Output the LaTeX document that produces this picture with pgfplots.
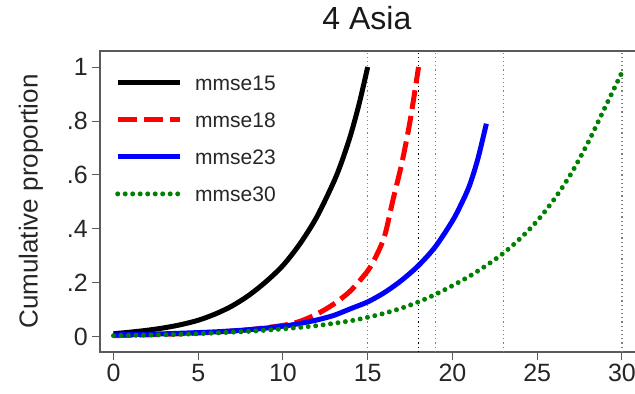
\documentclass[border=0pt]{standalone}
\usepackage{fontspec}
\setmainfont{Liberation Sans}
\usepackage{pgfplots}
\pgfplotsset{compat=1.18}
\definecolor{sgreen}{RGB}{0,128,0}
\definecolor{axgray}{RGB}{90,90,90}
\begin{document}
\begin{tikzpicture}
\begin{axis}[
  name=ax, at={(0,0)}, anchor=south west,
  scale only axis, width=536bp, height=301bp,
  xmin=-0.796, xmax=30.83, ymin=-0.0556, ymax=1.0593,
  axis line style={draw=axgray, line width=1.2bp},
  xtick={0,5,10,15,20,25,30},
  ytick={0,0.2,0.4,0.6,0.8,1},
  yticklabels={0,.2,.4,.6,.8,1},
  xtick pos=bottom, ytick pos=left, tick align=outside,
  major tick length=8bp,
  tick style={draw=axgray, line width=1bp},
  /pgf/number format/assume math mode=true,
  ticklabel style={font=\fontsize{25bp}{28bp}\selectfont, text=black!85},
  yticklabel style={anchor=east, inner sep=0pt, xshift=-4bp},
  xticklabel style={anchor=north, inner sep=0pt, yshift=-4bp},
  ylabel={Cumulative proportion},
  ylabel style={at={(axis description cs:-0.1287,0.5)}, anchor=center, font=\fontsize{26bp}{30bp}\selectfont, text=black!85},
  title={4 Asia},
  title style={at={(axis description cs:0.498,1)}, anchor=base, yshift=16bp, font=\fontsize{32bp}{36bp}\selectfont, text=black!90},
  legend style={draw=none, fill=none, at={(axis description cs:0.028,0.9196)}, anchor=north west, inner sep=0pt, row sep=22bp, column sep=0bp,
    nodes={inner sep=0pt, text height=15bp, text depth=0bp, font=\fontsize{21bp}{24bp}\selectfont, text=black!85}},
  legend image code/.code={\draw[#1] (0bp,0bp) -- (62bp,0bp);},
  legend cell align=left,
]
% reference lines
\addplot[forget plot, gray, line width=1.2bp, dash pattern=on 1.2bp off 3bp] coordinates {(15,-0.0556) (15,1.0593)};
\addplot[forget plot, black, line width=1.2bp, dash pattern=on 1.2bp off 3bp] coordinates {(18,-0.0556) (18,1.0593)};
\addplot[forget plot, gray, line width=1.2bp, dash pattern=on 1.2bp off 3bp] coordinates {(19,-0.0556) (19,1.0593)};
\addplot[forget plot, gray, line width=1.2bp, dash pattern=on 1.2bp off 3bp] coordinates {(23,-0.0556) (23,1.0593)};
\addplot[forget plot, gray, line width=1.2bp, dash pattern=on 1.2bp off 3bp] coordinates {(30,-0.0556) (30,1.0593)};
% mmse15
\addplot[black, line width=5bp, smooth, line join=round] coordinates {
(0,0.012) (1,0.018) (2,0.025) (3,0.034) (4,0.046) (5,0.062) (6,0.085) (7,0.115)
(8,0.155) (9,0.205) (10,0.265) (11,0.345) (12,0.445) (13,0.575) (13.5,0.655)
(14,0.75) (14.5,0.865) (15,1.0)};
\addlegendentry{\hspace{13bp}mmse15}
% mmse18
\addplot[red, line width=5bp, smooth, dash pattern=on 19bp off 7bp] coordinates {
(0,0.005) (2,0.008) (4,0.012) (6,0.018) (8,0.027) (10,0.043) (11,0.058) (12,0.085)
(13,0.122) (14,0.172) (15,0.245) (15.5,0.30) (16,0.375) (16.5,0.51) (17,0.64)
(17.5,0.80) (18,1.0)};
\addlegendentry{\hspace{13bp}mmse18}
% mmse23
\addplot[blue, line width=5bp, smooth] coordinates {
(0,0.008) (2,0.010) (4,0.014) (6,0.019) (8,0.027) (10,0.040) (11,0.050) (12,0.063)
(13,0.080) (14,0.105) (15,0.130) (16,0.165) (17,0.210) (18,0.265) (19,0.335)
(20,0.430) (20.5,0.49) (21,0.56) (21.5,0.66) (22,0.79)};
\addlegendentry{\hspace{13bp}mmse23}
% mmse30
\addplot[sgreen, line width=5bp, smooth, line cap=round, dash pattern=on 0bp off 7.5bp] coordinates {
(0,0.005) (2,0.007) (4,0.010) (6,0.015) (8,0.021) (10,0.030) (12,0.042) (14,0.060)
(15,0.073) (16,0.088) (17,0.107) (18,0.130) (19,0.158) (20,0.190) (21,0.225)
(22,0.265) (23,0.310) (24,0.365) (25,0.430) (26,0.510) (27,0.605) (28,0.720)
(29,0.850) (30,0.980)};
\addlegendentry{\hspace{13bp}mmse30}
\end{axis}
\pgfresetboundingbox
\path[use as bounding box] (-100bp,-42bp) rectangle (535bp,352bp);
\end{tikzpicture}
\end{document}
